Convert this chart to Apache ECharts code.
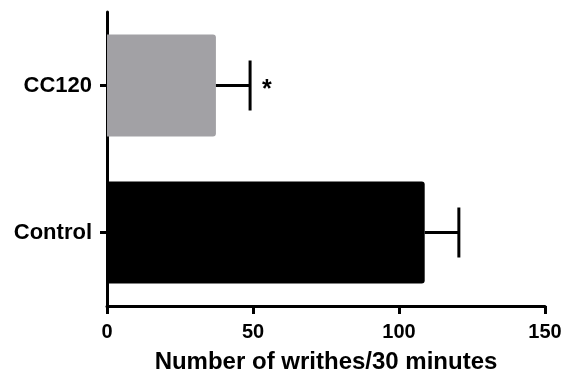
<!DOCTYPE html>
<html>
<head>
<meta charset="utf-8">
<script src="https://cdn.jsdelivr.net/npm/echarts@6/dist/echarts.min.js"></script>
<style>
  html, body { margin: 0; padding: 0; background: #fff; }
  #chart { width: 565px; height: 373px; }
</style>
</head>
<body>
<div id="chart"></div>
<script>
// data
const groups = ['Control', 'CC120']
const means = [108.8, 37.3]
const errors = [11.7, 11.7]
const marks = ['', '*']
const barColors = ['#000000', '#a2a1a5']

const chart = echarts.init(document.getElementById('chart'))

const fontFamily = 'Liberation Sans, Arial, sans-serif'

let options = {
  animation: false,
  grid: { left: 107, right: 20, top: 12, bottom: 67, outerBoundsMode: 'none' },
  xAxis: {
    type: 'value',
    min: 0,
    max: 150,
    interval: 50,
    name: 'Number of writhes/30 minutes',
    nameLocation: 'middle',
    nameGap: 44,
    nameTextStyle: { fontFamily, fontWeight: 'bold', fontSize: 24, color: '#000' },
    axisLine: { show: true, lineStyle: { color: '#000', width: 3 } },
    axisTick: { show: true, length: 8, lineStyle: { color: '#000', width: 3 } },
    axisLabel: { fontFamily, fontWeight: 'bold', fontSize: 20, color: '#000', margin: 16 },
    splitLine: { show: false }
  },
  yAxis: {
    type: 'category',
    data: groups,
    axisLine: { show: true, lineStyle: { color: '#000', width: 3 } },
    axisTick: { show: true, alignWithLabel: true, length: 7, lineStyle: { color: '#000', width: 3 } },
    axisLabel: { fontFamily, fontWeight: 'bold', fontSize: 22, color: '#000', margin: 15 }
  },
  series: [
    {
      type: 'bar',
      barWidth: 102,
      data: means.map((v, i) => ({
        value: v,
        itemStyle: { color: barColors[i], borderRadius: [0, 3, 3, 0] }
      }))
    },
    {
      type: 'custom',
      data: means.map((v, i) => [v, i, errors[i]]),
      z: 10,
      renderItem: function (params, api) {
        const m = api.value(0)
        const y = api.value(1)
        const e = api.value(2)
        const p0 = api.coord([m, y])
        const p1 = api.coord([m + e, y])
        const half = 25
        const style = { stroke: '#000', lineWidth: 3 }
        const children = [
          { type: 'line', shape: { x1: p0[0], y1: p0[1], x2: p1[0], y2: p1[1] }, style },
          { type: 'line', shape: { x1: p1[0], y1: p1[1] - half, x2: p1[0], y2: p1[1] + half }, style }
        ]
        const mark = marks[params.dataIndex]
        if (mark) {
          children.push({
            type: 'text',
            style: {
              text: mark, x: p1[0] + 12, y: p1[1] + 5,
              fill: '#000', font: 'bold 25px ' + fontFamily,
              align: 'left', verticalAlign: 'middle'
            }
          })
        }
        return { type: 'group', children }
      }
    }
  ]
}
chart.setOption(options)
</script>
</body>
</html>
